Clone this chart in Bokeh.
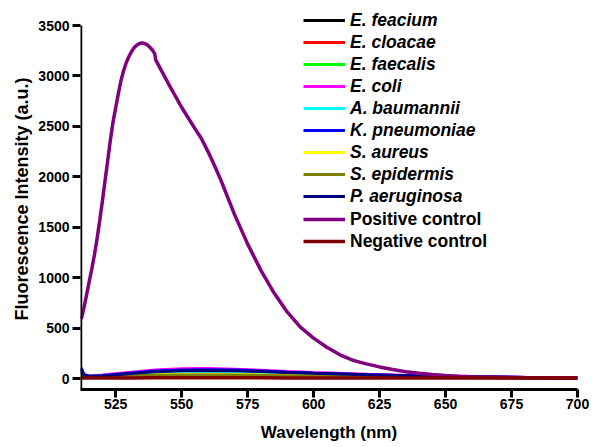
from bokeh.plotting import figure
from bokeh.models import Legend, LegendItem, Range1d, FixedTicker
from bokeh.embed import file_html
from bokeh.resources import INLINE

# ---- data ----
pc_wl = [512, 513, 514, 515, 516, 517, 518, 519, 520, 521, 522, 523, 524, 525, 526, 527,
         528, 529, 530, 531, 532, 533, 534, 535, 536, 537, 538, 539, 539.8, 540.2, 542,
         545, 550, 555, 557.5, 560, 562.5, 565, 570, 575, 580, 585, 590, 595, 600, 605,
         610, 615, 620, 625, 630, 635, 640, 645, 650, 655, 660, 670, 680, 690, 700]
pc_int = [590, 700, 830, 960, 1090, 1230, 1390, 1570, 1760, 1960, 2160, 2360, 2540, 2680,
          2820, 2950, 3050, 3130, 3190, 3240, 3280, 3305, 3322, 3328, 3322, 3308, 3285,
          3255, 3222, 3160, 3070, 2925, 2690, 2480, 2380, 2250, 2110, 1960, 1630, 1335,
          1075, 850, 660, 510, 400, 310, 235, 180, 145, 115, 90, 68, 52, 40, 30, 23, 18,
          12, 8, 6, 4]

wl = [512, 513, 515, 520, 530, 540, 550, 560, 570, 580, 590, 600, 620, 640, 660, 680, 700]
e_feacium = [25, 17, 14, 16, 22, 27, 30, 31, 29, 27, 24, 21, 16, 13, 10, 8, 6]
e_cloacae = [20, 14, 12, 14, 18, 22, 24, 25, 24, 22, 20, 18, 14, 11, 9, 7, 5]
e_faecalis = [28, 19, 15, 18, 25, 31, 34, 35, 33, 30, 27, 23, 18, 14, 11, 8, 6]
e_coli = [70, 35, 26, 34, 60, 84, 96, 98, 93, 82, 70, 59, 41, 28, 19, 12, 8]
a_baumannii = [45, 28, 20, 24, 36, 46, 52, 53, 50, 45, 40, 35, 26, 19, 14, 10, 7]
k_pneumoniae = [105, 40, 22, 28, 52, 74, 85, 88, 84, 74, 63, 53, 38, 26, 17, 11, 7]
s_aureus = [35, 22, 18, 21, 30, 37, 41, 42, 40, 36, 32, 28, 21, 16, 12, 9, 6]
s_epidermis = [30, 20, 16, 19, 26, 32, 35, 36, 34, 31, 28, 24, 19, 14, 11, 8, 6]
p_aeruginosa = [85, 35, 20, 26, 48, 68, 78, 80, 77, 69, 60, 51, 37, 25, 17, 11, 7]
neg_ctrl = [8, 6, 5, 5, 6, 7, 7, 7, 7, 7, 6, 6, 5, 5, 4, 4, 4]

species_names = ["E. feacium", "E. cloacae", "E. faecalis", "E. coli", "A. baumannii",
                 "K. pneumoniae", "S. aureus", "S. epidermis", "P. aeruginosa"]
species_values = [e_feacium, e_cloacae, e_faecalis, e_coli, a_baumannii,
                  k_pneumoniae, s_aureus, s_epidermis, p_aeruginosa]
species_colors = ["#000000", "#FF0000", "#00FF00", "#FF00FF", "#00FFFF",
                  "#0000FF", "#FFFF00", "#808000", "#000080"]
control_names = ["Positive control", "Negative control"]
control_colors = ["#800080", "#800000"]

x_ticks = [525, 550, 575, 600, 625, 650, 675, 700]
y_ticks = [0, 500, 1000, 1500, 2000, 2500, 3000, 3500]

# axis limits
X_MIN, X_MAX = 511.7, 700
Y_MIN, Y_AXIS_TOP, Y_FRAME_TOP = -109, 3500, 3669

FONT = "Liberation Sans"

p = figure(width=592, height=447, output_backend="svg", toolbar_location=None,
           x_range=Range1d(X_MIN, X_MAX), y_range=Range1d(Y_MIN, Y_FRAME_TOP),
           min_border_left=80, min_border_right=15, min_border_top=8, min_border_bottom=58)
p.outline_line_color = None
p.grid.visible = False
p.background_fill_color = "white"

sp_renderers = []
for name, vals, col in zip(species_names, species_values, species_colors):
    r = p.line(wl, vals, line_color=col, line_width=3)
    sp_renderers.append(r)
r_pos = p.line(pc_wl, pc_int, line_color=control_colors[0], line_width=3.5)
r_neg = p.line(wl, neg_ctrl, line_color=control_colors[1], line_width=3.5)

# y axis line stops at the top tick (3500)
p.line([X_MIN, X_MIN], [Y_MIN, Y_AXIS_TOP], line_color="black", line_width=3.5)

for ax in (p.xaxis[0], p.yaxis[0]):
    ax.axis_line_width = 3
    ax.major_tick_line_width = 3
    ax.major_tick_out = 8
    ax.major_tick_in = 0
    ax.minor_tick_out = 0
    ax.minor_tick_in = 0
    ax.major_label_text_font = FONT
    ax.major_label_text_font_style = "bold"
    ax.major_label_text_font_size = "14px"
    ax.major_label_text_color = "black"
    ax.axis_label_text_font = FONT
    ax.axis_label_text_font_style = "bold"
    ax.axis_label_text_color = "black"

p.yaxis[0].axis_line_color = None
p.xaxis[0].ticker = FixedTicker(ticks=x_ticks)
p.yaxis[0].ticker = FixedTicker(ticks=y_ticks)
p.xaxis[0].axis_label = "Wavelength (nm)"
p.yaxis[0].axis_label = "Fluorescence Intensity (a.u.)"
p.xaxis[0].axis_label_text_font_size = "17px"
p.yaxis[0].axis_label_text_font_size = "18px"
p.xaxis[0].major_label_standoff = 1
p.yaxis[0].major_label_standoff = 3
p.xaxis[0].axis_label_standoff = 11
p.yaxis[0].axis_label_standoff = 3

def make_legend(items, style, loc):
    lg = Legend(items=items, location=loc, orientation="vertical")
    lg.label_text_font = FONT
    lg.label_text_font_style = style
    lg.label_text_font_size = "17.5px"
    lg.label_text_color = "black"
    lg.glyph_width = 42
    lg.glyph_height = 22
    lg.label_height = 22
    lg.label_standoff = 5
    lg.spacing = 0
    lg.padding = 0
    lg.margin = 0
    lg.border_line_color = None
    lg.background_fill_alpha = 0
    return lg

items1 = [LegendItem(label=n, renderers=[r]) for n, r in zip(species_names, sp_renderers)]
items2 = [LegendItem(label=control_names[0], renderers=[r_pos]),
          LegendItem(label=control_names[1], renderers=[r_neg])]
p.add_layout(make_legend(items1, "bold italic", (223, 182)))
p.add_layout(make_legend(items2, "bold", (223, 137)))

open("out.html", "w").write(file_html(p, INLINE))
